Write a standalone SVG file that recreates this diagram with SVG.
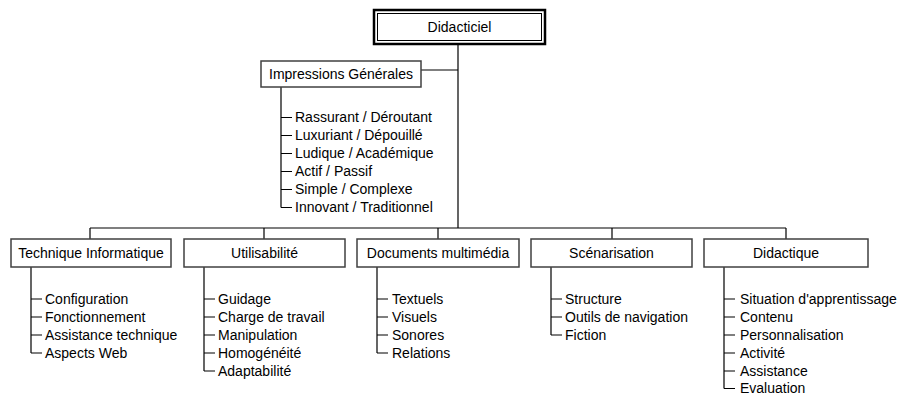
<svg xmlns="http://www.w3.org/2000/svg" width="903" height="394" viewBox="0 0 903 394">
<style>
.box{fill:#fff;stroke:#404040;stroke-width:1.5}
.ln{fill:none;stroke:#000;stroke-width:1.2}
text{font-family:"Liberation Sans",Arial,sans-serif;font-size:14px;fill:#000}
.c{text-anchor:middle}
</style>
<rect width="903" height="394" fill="#fff"/>
<g id="connectors" class="ln">
<path d="M458 44V228M421 70H458M90 228H786M90 228V239M264 228V239M438 228V239M612 228V239M786 228V239"/>
<path d="M281 87V207.5M281 117.5h11M281 135.5h11M281 153.5h11M281 171.5h11M281 189.5h11M281 207.5h11"/>
<path d="M31 267V353M31 299h11M31 317h11M31 335h11M31 353h11"/>
<path d="M204 267V371M204 299h11M204 317h11M204 335h11M204 353h11M204 371h11"/>
<path d="M377 267V353M377 299h11M377 317h11M377 335h11M377 353h11"/>
<path d="M551 267V335M551 299h11M551 317h11M551 335h11"/>
<path d="M724 267V388.5M724 299h11M724 317h11M724 335h11M724 353h11M724 371h11M724 388.5h11"/>
</g>
<g id="didacticiel">
<rect x="374" y="10" width="171" height="34" fill="#fff" stroke="#000" stroke-width="2.5"/>
<rect x="377.5" y="13.5" width="164" height="27" fill="none" stroke="#000" stroke-width="1"/>
<text class="c" x="459.5" y="32">Didacticiel</text>
</g>
<g id="impressions">
<rect class="box" x="261" y="61" width="160" height="26"/>
<text class="c" x="341" y="79">Impressions Générales</text>
<text x="295" y="122">Rassurant / Déroutant</text>
<text x="295" y="140">Luxuriant / Dépouillé</text>
<text x="295" y="158">Ludique / Académique</text>
<text x="295" y="176">Actif / Passif</text>
<text x="295" y="194">Simple / Complexe</text>
<text x="295" y="212">Innovant / Traditionnel</text>
</g>
<g id="technique">
<rect class="box" x="11" y="239" width="160" height="28"/>
<text class="c" x="91" y="258">Technique Informatique</text>
<text x="45" y="303.5">Configuration</text>
<text x="45" y="321.5">Fonctionnement</text>
<text x="45" y="339.5">Assistance technique</text>
<text x="45" y="357.5">Aspects Web</text>
</g>
<g id="utilisabilite">
<rect class="box" x="184" y="239" width="161" height="28"/>
<text class="c" x="264.5" y="258">Utilisabilité</text>
<text x="218" y="303.5">Guidage</text>
<text x="218" y="321.5">Charge de travail</text>
<text x="218" y="339.5">Manipulation</text>
<text x="218" y="357.5">Homogénéité</text>
<text x="218" y="375.5">Adaptabilité</text>
</g>
<g id="documents">
<rect class="box" x="357" y="239" width="162" height="28"/>
<text class="c" x="438" y="258">Documents multimédia</text>
<text x="392" y="303.5">Textuels</text>
<text x="392" y="321.5">Visuels</text>
<text x="392" y="339.5">Sonores</text>
<text x="392" y="357.5">Relations</text>
</g>
<g id="scenarisation">
<rect class="box" x="531" y="239" width="161" height="28"/>
<text class="c" x="611.5" y="258">Scénarisation</text>
<text x="565" y="303.5">Structure</text>
<text x="565" y="321.5">Outils de navigation</text>
<text x="565" y="339.5">Fiction</text>
</g>
<g id="didactique">
<rect class="box" x="704" y="239" width="164" height="28"/>
<text class="c" x="786" y="258">Didactique</text>
<text x="740" y="303.5">Situation d'apprentissage</text>
<text x="740" y="321.5">Contenu</text>
<text x="740" y="339.5">Personnalisation</text>
<text x="740" y="357.5">Activité</text>
<text x="740" y="375.5">Assistance</text>
<text x="740" y="392.5">Evaluation</text>
</g>
</svg>
